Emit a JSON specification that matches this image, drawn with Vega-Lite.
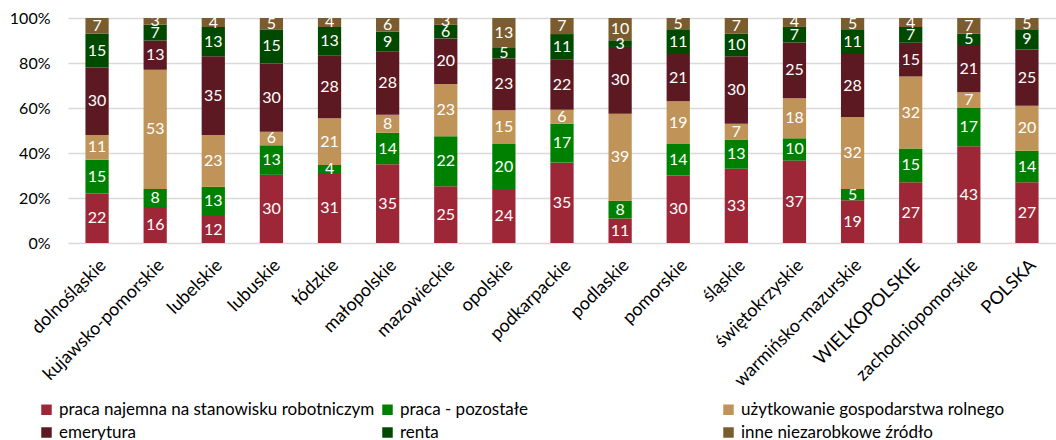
{
"$schema": "https://vega.github.io/schema/vega-lite/v6.json",
"width": 988, "height": 225,
"autosize": {"type": "none"},
"padding": {"left": 68, "top": 18, "right": 0, "bottom": 197},
"background": "white",
"config": {"view": {"stroke": null}, "font": "Lato"},
"datasets": {"d": [
{"r":"dolnośląskie","c":"praca najemna na stanowisku robotniczym","o":1,"v":22},
{"r":"dolnośląskie","c":"praca - pozostałe","o":2,"v":15},
{"r":"dolnośląskie","c":"użytkowanie gospodarstwa rolnego","o":3,"v":11},
{"r":"dolnośląskie","c":"emerytura","o":4,"v":30},
{"r":"dolnośląskie","c":"renta","o":5,"v":15},
{"r":"dolnośląskie","c":"inne niezarobkowe źródło","o":6,"v":7},
{"r":"kujawsko-pomorskie","c":"praca najemna na stanowisku robotniczym","o":1,"v":16},
{"r":"kujawsko-pomorskie","c":"praca - pozostałe","o":2,"v":8},
{"r":"kujawsko-pomorskie","c":"użytkowanie gospodarstwa rolnego","o":3,"v":53},
{"r":"kujawsko-pomorskie","c":"emerytura","o":4,"v":13},
{"r":"kujawsko-pomorskie","c":"renta","o":5,"v":7},
{"r":"kujawsko-pomorskie","c":"inne niezarobkowe źródło","o":6,"v":3},
{"r":"lubelskie","c":"praca najemna na stanowisku robotniczym","o":1,"v":12},
{"r":"lubelskie","c":"praca - pozostałe","o":2,"v":13},
{"r":"lubelskie","c":"użytkowanie gospodarstwa rolnego","o":3,"v":23},
{"r":"lubelskie","c":"emerytura","o":4,"v":35},
{"r":"lubelskie","c":"renta","o":5,"v":13},
{"r":"lubelskie","c":"inne niezarobkowe źródło","o":6,"v":4},
{"r":"lubuskie","c":"praca najemna na stanowisku robotniczym","o":1,"v":30},
{"r":"lubuskie","c":"praca - pozostałe","o":2,"v":13},
{"r":"lubuskie","c":"użytkowanie gospodarstwa rolnego","o":3,"v":6},
{"r":"lubuskie","c":"emerytura","o":4,"v":30},
{"r":"lubuskie","c":"renta","o":5,"v":15},
{"r":"lubuskie","c":"inne niezarobkowe źródło","o":6,"v":5},
{"r":"łódzkie","c":"praca najemna na stanowisku robotniczym","o":1,"v":31},
{"r":"łódzkie","c":"praca - pozostałe","o":2,"v":4},
{"r":"łódzkie","c":"użytkowanie gospodarstwa rolnego","o":3,"v":21},
{"r":"łódzkie","c":"emerytura","o":4,"v":28},
{"r":"łódzkie","c":"renta","o":5,"v":13},
{"r":"łódzkie","c":"inne niezarobkowe źródło","o":6,"v":4},
{"r":"małopolskie","c":"praca najemna na stanowisku robotniczym","o":1,"v":35},
{"r":"małopolskie","c":"praca - pozostałe","o":2,"v":14},
{"r":"małopolskie","c":"użytkowanie gospodarstwa rolnego","o":3,"v":8},
{"r":"małopolskie","c":"emerytura","o":4,"v":28},
{"r":"małopolskie","c":"renta","o":5,"v":9},
{"r":"małopolskie","c":"inne niezarobkowe źródło","o":6,"v":6},
{"r":"mazowieckie","c":"praca najemna na stanowisku robotniczym","o":1,"v":25},
{"r":"mazowieckie","c":"praca - pozostałe","o":2,"v":22},
{"r":"mazowieckie","c":"użytkowanie gospodarstwa rolnego","o":3,"v":23},
{"r":"mazowieckie","c":"emerytura","o":4,"v":20},
{"r":"mazowieckie","c":"renta","o":5,"v":6},
{"r":"mazowieckie","c":"inne niezarobkowe źródło","o":6,"v":3},
{"r":"opolskie","c":"praca najemna na stanowisku robotniczym","o":1,"v":24},
{"r":"opolskie","c":"praca - pozostałe","o":2,"v":20},
{"r":"opolskie","c":"użytkowanie gospodarstwa rolnego","o":3,"v":15},
{"r":"opolskie","c":"emerytura","o":4,"v":23},
{"r":"opolskie","c":"renta","o":5,"v":5},
{"r":"opolskie","c":"inne niezarobkowe źródło","o":6,"v":13},
{"r":"podkarpackie","c":"praca najemna na stanowisku robotniczym","o":1,"v":35},
{"r":"podkarpackie","c":"praca - pozostałe","o":2,"v":17},
{"r":"podkarpackie","c":"użytkowanie gospodarstwa rolnego","o":3,"v":6},
{"r":"podkarpackie","c":"emerytura","o":4,"v":22},
{"r":"podkarpackie","c":"renta","o":5,"v":11},
{"r":"podkarpackie","c":"inne niezarobkowe źródło","o":6,"v":7},
{"r":"podlaskie","c":"praca najemna na stanowisku robotniczym","o":1,"v":11},
{"r":"podlaskie","c":"praca - pozostałe","o":2,"v":8},
{"r":"podlaskie","c":"użytkowanie gospodarstwa rolnego","o":3,"v":39},
{"r":"podlaskie","c":"emerytura","o":4,"v":30},
{"r":"podlaskie","c":"renta","o":5,"v":3},
{"r":"podlaskie","c":"inne niezarobkowe źródło","o":6,"v":10},
{"r":"pomorskie","c":"praca najemna na stanowisku robotniczym","o":1,"v":30},
{"r":"pomorskie","c":"praca - pozostałe","o":2,"v":14},
{"r":"pomorskie","c":"użytkowanie gospodarstwa rolnego","o":3,"v":19},
{"r":"pomorskie","c":"emerytura","o":4,"v":21},
{"r":"pomorskie","c":"renta","o":5,"v":11},
{"r":"pomorskie","c":"inne niezarobkowe źródło","o":6,"v":5},
{"r":"śląskie","c":"praca najemna na stanowisku robotniczym","o":1,"v":33},
{"r":"śląskie","c":"praca - pozostałe","o":2,"v":13},
{"r":"śląskie","c":"użytkowanie gospodarstwa rolnego","o":3,"v":7},
{"r":"śląskie","c":"emerytura","o":4,"v":30},
{"r":"śląskie","c":"renta","o":5,"v":10},
{"r":"śląskie","c":"inne niezarobkowe źródło","o":6,"v":7},
{"r":"świętokrzyskie","c":"praca najemna na stanowisku robotniczym","o":1,"v":37},
{"r":"świętokrzyskie","c":"praca - pozostałe","o":2,"v":10},
{"r":"świętokrzyskie","c":"użytkowanie gospodarstwa rolnego","o":3,"v":18},
{"r":"świętokrzyskie","c":"emerytura","o":4,"v":25},
{"r":"świętokrzyskie","c":"renta","o":5,"v":7},
{"r":"świętokrzyskie","c":"inne niezarobkowe źródło","o":6,"v":4},
{"r":"warmińsko-mazurskie","c":"praca najemna na stanowisku robotniczym","o":1,"v":19},
{"r":"warmińsko-mazurskie","c":"praca - pozostałe","o":2,"v":5},
{"r":"warmińsko-mazurskie","c":"użytkowanie gospodarstwa rolnego","o":3,"v":32},
{"r":"warmińsko-mazurskie","c":"emerytura","o":4,"v":28},
{"r":"warmińsko-mazurskie","c":"renta","o":5,"v":11},
{"r":"warmińsko-mazurskie","c":"inne niezarobkowe źródło","o":6,"v":5},
{"r":"WIELKOPOLSKIE","c":"praca najemna na stanowisku robotniczym","o":1,"v":27},
{"r":"WIELKOPOLSKIE","c":"praca - pozostałe","o":2,"v":15},
{"r":"WIELKOPOLSKIE","c":"użytkowanie gospodarstwa rolnego","o":3,"v":32},
{"r":"WIELKOPOLSKIE","c":"emerytura","o":4,"v":15},
{"r":"WIELKOPOLSKIE","c":"renta","o":5,"v":7},
{"r":"WIELKOPOLSKIE","c":"inne niezarobkowe źródło","o":6,"v":4},
{"r":"zachodniopomorskie","c":"praca najemna na stanowisku robotniczym","o":1,"v":43},
{"r":"zachodniopomorskie","c":"praca - pozostałe","o":2,"v":17},
{"r":"zachodniopomorskie","c":"użytkowanie gospodarstwa rolnego","o":3,"v":7},
{"r":"zachodniopomorskie","c":"emerytura","o":4,"v":21},
{"r":"zachodniopomorskie","c":"renta","o":5,"v":5},
{"r":"zachodniopomorskie","c":"inne niezarobkowe źródło","o":6,"v":7},
{"r":"POLSKA","c":"praca najemna na stanowisku robotniczym","o":1,"v":27},
{"r":"POLSKA","c":"praca - pozostałe","o":2,"v":14},
{"r":"POLSKA","c":"użytkowanie gospodarstwa rolnego","o":3,"v":20},
{"r":"POLSKA","c":"emerytura","o":4,"v":25},
{"r":"POLSKA","c":"renta","o":5,"v":9},
{"r":"POLSKA","c":"inne niezarobkowe źródło","o":6,"v":5}
]},
"data": {"name": "d"},
"transform": [
{"stack": "v", "groupby": ["r"], "sort": [{"field": "o", "order": "ascending"}], "as": ["y0", "y1"], "offset": "normalize"},
{"calculate": "(datum.y0 + datum.y1) / 2", "as": "ym"}
],
"encoding": {
"x": {"field": "r", "type": "nominal", "sort": null, "title": null,
"scale": {"paddingInner": 0.6, "paddingOuter": 0.3},
"axis": {"labelAngle": -45, "labelFontSize": 18, "labelColor": "#000000", "labelPadding": 13, "ticks": false, "domain": false, "grid": false, "labelLimit": 300}}
},
"layer": [
{"mark": {"type": "bar", "stroke": null},
"encoding": {
"y": {"field": "y0", "type": "quantitative", "title": null, "scale": {"domain": [0, 1], "nice": false},
"axis": {"values": [0, 0.2, 0.4, 0.6, 0.8, 1], "format": ".0%", "labelFontSize": 16, "labelColor": "#000000", "labelPadding": 18, "ticks": false, "domain": false, "gridColor": "#D9D9D9", "gridWidth": 1.5}},
"y2": {"field": "y1"},
"color": {"field": "c", "type": "nominal", "title": null,
"scale": {"domain": ["praca najemna na stanowisku robotniczym", "praca - pozostałe", "użytkowanie gospodarstwa rolnego", "emerytura", "renta", "inne niezarobkowe źródło"],
"range": ["#9E2737", "#008000", "#C09458", "#5D1921", "#004A00", "#7B5C2E"]},
"legend": {"orient": "none", "legendX": -30, "legendY": 383, "direction": "horizontal", "columns": 3, "gridAlign": "all", "columnPadding": 4, "rowPadding": 5, "symbolType": "square", "symbolSize": 110, "symbolStrokeWidth": 0, "labelFontSize": 17, "labelColor": "#000000", "labelOffset": 4, "labelLimit": 400}}
}},
{"mark": {"type": "text", "color": "white", "fontSize": 16, "baseline": "middle", "align": "center"},
"encoding": {
"y": {"field": "ym", "type": "quantitative"},
"text": {"field": "v", "type": "quantitative"}
}}
]
}
